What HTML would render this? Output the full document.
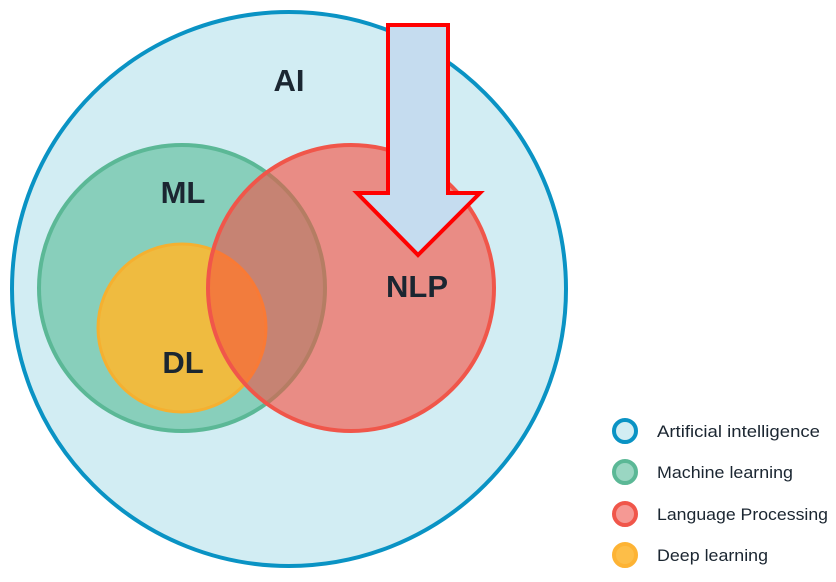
<!DOCTYPE html>
<html><head><style>html,body{margin:0;padding:0;background:#fff;}svg{display:block;}</style></head>
<body>
<svg width="836" height="582" viewBox="0 0 836 582" xmlns="http://www.w3.org/2000/svg" font-family="Liberation Sans, sans-serif">
<defs><clipPath id="nlp"><circle cx="351" cy="288" r="143"/></clipPath></defs>
<circle cx="289" cy="289" r="277" fill="#d2edf3" stroke="#0a93c4" stroke-width="4"/>
<circle cx="182" cy="288" r="143" fill="#88cfbb" stroke="#5bb896" stroke-width="4"/>
<circle cx="182" cy="328" r="84" fill="#efbb40" stroke="#f5b030" stroke-width="3"/>
<circle cx="351" cy="288" r="143" fill="#e98c85"/>
<g clip-path="url(#nlp)">
<circle cx="182" cy="288" r="143" fill="#c68373" stroke="#b57d63" stroke-width="4"/>
<circle cx="182" cy="328" r="84" fill="#f27c3d" stroke="#f97a35" stroke-width="3"/>
</g>
<circle cx="351" cy="288" r="143" fill="none" stroke="#f0564a" stroke-width="4"/>
<polygon points="388,25 448,25 448,193 480,193 418,255 357,193 388,193" fill="#c5dcef" stroke="#ff0000" stroke-width="4" stroke-linejoin="miter"/>
<g font-weight="bold" font-size="31" fill="#1b2631" text-anchor="middle">
<text x="289" y="91">AI</text>
<text x="183" y="203">ML</text>
<text x="183" y="373">DL</text>
<text x="417" y="297">NLP</text>
</g>
<circle cx="625" cy="431" r="11" fill="#d2edf3" stroke="#0a93c4" stroke-width="4"/>
<circle cx="625" cy="472" r="11" fill="#9ad6c2" stroke="#5bb896" stroke-width="4"/>
<circle cx="625" cy="514" r="11" fill="#f59994" stroke="#f0564a" stroke-width="4"/>
<circle cx="625" cy="555" r="11" fill="#fdbe48" stroke="#fdb334" stroke-width="4"/>
<g font-size="16.5" fill="#1b2631">
<text x="657" y="437" textLength="163" lengthAdjust="spacingAndGlyphs">Artificial intelligence</text>
<text x="657" y="478" textLength="136" lengthAdjust="spacingAndGlyphs">Machine learning</text>
<text x="657" y="520" textLength="171" lengthAdjust="spacingAndGlyphs">Language Processing</text>
<text x="657" y="561" textLength="111" lengthAdjust="spacingAndGlyphs">Deep learning</text>
</g>
</svg>
</body></html>
